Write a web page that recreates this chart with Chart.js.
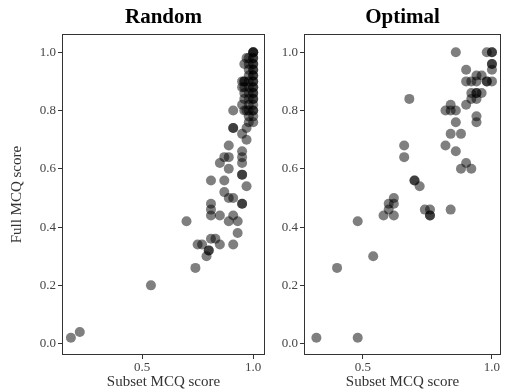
<!DOCTYPE html>
<html>
<head>
<meta charset="utf-8">
<script src="https://cdn.jsdelivr.net/npm/chart.js@4/dist/chart.umd.min.js"></script>
<style>
  html, body { margin: 0; padding: 0; background: #fff; overflow: hidden; }
  #wrap { position: relative; width: 505px; height: 391px; }
  #leftBox { position: absolute; left: 0; top: 0; width: 270px; height: 391px; }
  #rightBox { position: absolute; left: 268px; top: 0; width: 238px; height: 391px; }
</style>
</head>
<body>
<div id="wrap">
  <div id="leftBox"><canvas id="randomChart"></canvas></div>
  <div id="rightBox"><canvas id="optimalChart"></canvas></div>
</div>
<script>
// Random: subset score vs full score
const randomX = [0.18, 0.22, 0.54, 0.70, 0.74, 0.75, 0.77, 0.80, 0.80, 0.79,
  0.81, 0.81, 0.81, 0.81, 0.81, 0.83, 0.85, 0.85, 0.85, 0.87, 0.87, 0.87,
  0.89, 0.89, 0.89, 0.89, 0.89, 0.91, 0.91, 0.91, 0.91, 0.91, 0.91, 0.93, 0.93,
  0.95, 0.95, 0.95, 0.95, 0.95, 0.95, 0.95, 0.97, 0.97, 0.97,
  0.95, 0.95, 0.95, 0.95, 0.97, 0.97,
  0.96, 0.96, 0.96, 0.96, 0.96, 0.96, 0.96,
  0.98, 0.98, 0.98, 0.98, 0.98, 0.98, 0.98, 0.98, 0.98, 0.98, 0.98, 0.98,
  1.00, 1.00, 1.00, 1.00, 1.00, 1.00, 1.00, 1.00, 1.00, 1.00, 1.00, 1.00, 1.00,
  1.00, 1.00, 1.00, 1.00, 1.00, 1.00, 1.00, 1.00, 1.00, 1.00, 1.00];
const randomY = [0.02, 0.04, 0.20, 0.42, 0.26, 0.34, 0.34, 0.32, 0.32, 0.30,
  0.56, 0.48, 0.46, 0.44, 0.36, 0.36, 0.44, 0.34, 0.62, 0.64, 0.56, 0.52,
  0.60, 0.64, 0.68, 0.50, 0.42, 0.80, 0.74, 0.74, 0.34, 0.44, 0.50, 0.42, 0.38,
  0.66, 0.64, 0.62, 0.58, 0.58, 0.48, 0.48, 0.54, 0.70, 0.74,
  0.90, 0.88, 0.72, 0.82, 0.80, 0.98,
  0.90, 0.90, 0.88, 0.86, 0.84, 0.96, 0.80,
  0.98, 0.96, 0.94, 0.92, 0.90, 0.88, 0.86, 0.84, 0.82, 0.80, 0.78, 0.76,
  1.00, 1.00, 0.98, 0.98, 0.96, 0.96, 0.94, 0.94, 0.92, 0.92, 0.90, 0.90, 0.88,
  0.88, 0.86, 0.86, 0.84, 0.84, 0.82, 0.80, 0.80, 0.78, 0.76, 1.00];

// Optimal: subset score vs full score
const optimalX = [0.32, 0.48, 0.48, 0.40, 0.54, 0.58, 0.60, 0.60, 0.62, 0.62, 0.62,
  0.66, 0.66, 0.68, 0.70, 0.70, 0.72, 0.74, 0.76, 0.76, 0.76, 0.84,
  0.82, 0.82, 0.84, 0.84, 0.86, 0.84, 0.88, 0.86, 0.86, 0.86, 0.88, 0.90, 0.92,
  0.90, 0.90, 0.90, 0.92, 0.92, 0.92, 0.94, 0.94, 0.94, 0.94, 0.94, 0.96,
  0.94, 0.96, 0.94, 0.98, 0.98, 0.98, 1.00, 1.00, 1.00, 1.00, 1.00, 1.00];
const optimalY = [0.02, 0.02, 0.42, 0.26, 0.30, 0.44, 0.48, 0.46, 0.50, 0.48, 0.44,
  0.68, 0.64, 0.84, 0.56, 0.56, 0.54, 0.46, 0.46, 0.44, 0.44, 0.46,
  0.68, 0.80, 0.82, 0.80, 0.80, 0.72, 0.72, 0.76, 0.66, 1.00, 0.60, 0.62, 0.60,
  0.82, 0.94, 0.90, 0.90, 0.84, 0.86, 0.78, 0.76, 0.86, 0.86, 0.92, 0.92,
  0.90, 0.86, 0.84, 0.90, 0.90, 1.00, 1.00, 1.00, 0.96, 0.96, 0.94, 0.90];

const yTickValues = [0.0, 0.2, 0.4, 0.6, 0.8, 1.0];
const xTickValues = [0.5, 1.0];

const serif = "'Liberation Serif', 'DejaVu Serif', serif";

// box around the plotting area
const frame = {
  id: "frame",
  afterDraw(chart) {
    const a = chart.chartArea, ctx = chart.ctx;
    ctx.save();
    ctx.strokeStyle = "#333";
    ctx.lineWidth = 1;
    ctx.strokeRect(Math.round(a.left) + 0.5, Math.round(a.top) + 0.5,
      Math.round(a.right - a.left) - 1, Math.round(a.bottom - a.top) - 1);
    ctx.restore();
  }
};

function makeChart(id, title, xs, ys, xMin, xMax, yWidth, showYTitle) {
  const points = xs.map((x, i) => ({ x: x, y: ys[i] }));
  return new Chart(document.getElementById(id), {
    type: "scatter",
    data: {
      datasets: [{
        data: points,
        backgroundColor: "rgba(0,0,0,0.5)",
        borderWidth: 0,
        pointRadius: 5,
        pointHoverRadius: 5
      }]
    },
    options: {
      responsive: true,
      maintainAspectRatio: false,
      animation: false,
      layout: { padding: { top: 0, right: 0, bottom: 0, left: 0 } },
      plugins: {
        legend: { display: false },
        tooltip: { enabled: false },
        title: {
          display: true,
          text: title,
          fullSize: false,
          color: "#000",
          font: { family: serif, size: 21, weight: "bold" },
          padding: { top: 5, bottom: 4 }
        }
      },
      scales: {
        x: {
          type: "linear",
          min: xMin,
          max: xMax,
          afterFit: s => { s.height = 36; },
          afterBuildTicks: s => { s.ticks = xTickValues.map(v => ({ value: v })); },
          grid: { drawOnChartArea: false, drawTicks: true, tickLength: 4, color: "#333" },
          border: { display: false },
          ticks: {
            color: "#444",
            padding: 1,
            font: { family: serif, size: 13 },
            callback: v => v.toFixed(1)
          },
          title: {
            display: true,
            text: "Subset MCQ score",
            color: "#333",
            font: { family: serif, size: 15 },
            padding: { top: 0, bottom: 0 }
          }
        },
        y: {
          type: "linear",
          min: -0.039,
          max: 1.062,
          afterFit: s => { s.width = yWidth; },
          afterBuildTicks: s => { s.ticks = yTickValues.map(v => ({ value: v })); },
          grid: { drawOnChartArea: false, drawTicks: true, tickLength: 4, color: "#333" },
          border: { display: false },
          ticks: {
            color: "#444",
            padding: 2,
            font: { family: serif, size: 13 },
            callback: v => v.toFixed(1)
          },
          title: {
            display: showYTitle,
            text: "Full MCQ score",
            color: "#333",
            font: { family: serif, size: 15 },
            padding: { top: 8, bottom: 0 }
          }
        }
      }
    },
    plugins: [frame]
  });
}

makeChart("randomChart", "Random", randomX, randomY, 0.14, 1.053, 62, true);
makeChart("optimalChart", "Optimal", optimalX, optimalY, 0.272, 1.035, 36, false);
</script>
</body>
</html>
